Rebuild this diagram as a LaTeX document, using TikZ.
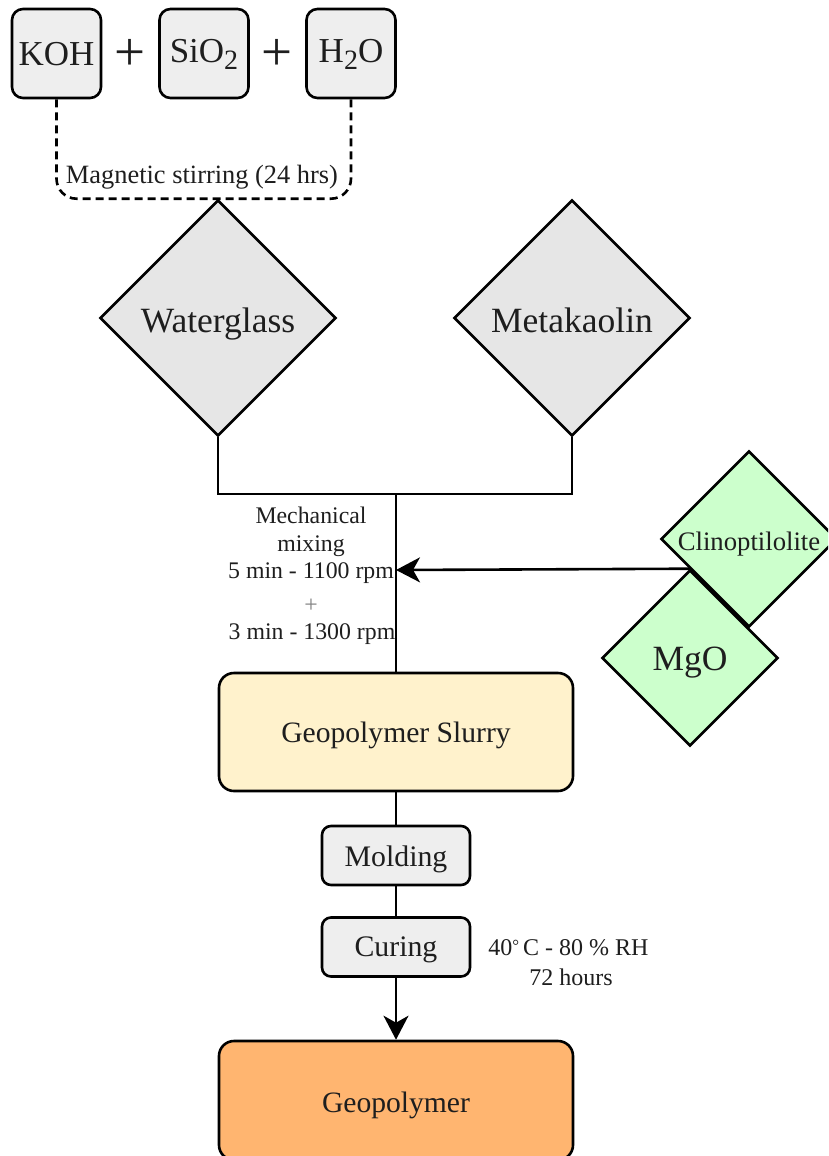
\documentclass[tikz,border=0pt]{standalone}
\usepackage{fontspec}
\setmainfont{Liberation Serif}
\usetikzlibrary{shapes.geometric,arrows.meta}
\definecolor{boxgray}{HTML}{EEEEEE}
\definecolor{diagray}{HTML}{E6E6E6}
\definecolor{lgreen}{HTML}{CCFFCC}
\definecolor{lyellow}{HTML}{FFF2CC}
\definecolor{lorange}{HTML}{FFB570}
\definecolor{txt}{HTML}{1E1E1E}
\newcommand{\chemsub}[1]{\raisebox{-7pt}{\fontsize{28}{28}\selectfont #1}}
\tikzset{
  fs/.style={font=\fontsize{#1}{#1}\selectfont},
  bl/.style={text depth=0pt, text height=#1},
  chembox/.style={draw, line width=2.6pt, rounded corners=11pt, fill=boxgray, minimum width=89pt, minimum height=89pt, inner sep=0pt, text=txt, fs=35},
  dia/.style={draw, line width=2.6pt, diamond, aspect=1, inner sep=0pt, minimum width=#1, minimum height=#1, text=txt},
  bigbox/.style={draw, line width=2.6pt, rounded corners=15pt, minimum width=354pt, minimum height=118pt, inner sep=0pt, text=txt, fs=29.6},
  smallbox/.style={draw, line width=2.6pt, rounded corners=9pt, fill=boxgray, minimum width=148pt, minimum height=59pt, inner sep=0pt, text=txt, fs=29.8},
  conn/.style={line width=2.6pt},
  tip/.style={-{Stealth[length=24pt,width=25pt,inset=7pt]}},
  note/.style={text=txt, inner sep=0pt, anchor=base}
}
\begin{document}
\begin{tikzpicture}[x=1pt,y=-1pt]
\path[use as bounding box] (0,0) rectangle (828,1156);
\clip (0,0) rectangle (828,1156);
% top chemicals
\node[chembox, bl=24pt] (koh) at (56.5,53.5) {KOH};
\node[text=txt, inner sep=0pt, fs=55] (p1) at (130,55) {+};
\node[chembox, bl=19pt] (sio) at (204,53.5) {SiO\chemsub{2}};
\node[text=txt, inner sep=0pt, fs=55] (p2) at (277,55) {+};
\node[chembox, bl=19pt] (h2o) at (351,53.5) {H\chemsub{2}O};
% diamonds
\node[dia=236pt, fill=diagray, fs=35.5, bl=28pt] (wg) at (218,318) {Waterglass};
\node[dia=236pt, fill=diagray, fs=35.5, bl=28pt] (mk) at (572,318) {Metakaolin};
% dashed stirring path
\draw[conn, dash pattern=on 8pt off 5pt, rounded corners=20pt]
  (koh.south) -- (koh.south |- wg.north) -- (h2o.south |- wg.north) -- (h2o.south);
\node[note, fs=26.4] (stir) at (202,183) {Magnetic stirring (24 hrs)};
% junction
\coordinate (jn) at (396,494);
\draw[conn] (wg.south) |- (jn) -| (mk.south);
% additives
\node[dia=176pt, fill=lgreen, fs=26.7, bl=22pt] (cli) at (749,539) {Clinoptilolite};
\node[dia=176pt, fill=lgreen, fs=35.5, bl=24pt] (mgo) at (690,658) {MgO};
% slurry
\node[bigbox, fill=lyellow, bl=21pt] (slurry) at (396,732) {Geopolymer Slurry};
\draw[conn] (jn) -- (slurry.north);
\coordinate (mix) at (396,570);
\draw[conn, tip] (mgo.north) -- (mix);
\node[note, fs=23.8] (mix1) at (311,523) {Mechanical};
\node[note, fs=23.8] (mix2) at (311,551) {mixing};
\node[note, fs=23.8] (mix3) at (311,578) {5 min - 1100 rpm};
\node[note, fs=23.8, text=gray] (mix4) at (311,612) {+};
\node[note, fs=23.8] (mix5) at (312,639) {3 min - 1300 rpm};
% molding & curing
\node[smallbox, bl=21pt] (mold) at (396,855.5) {Molding};
\node[smallbox, bl=19.5pt] (cure) at (396,947) {Curing};
\draw[conn] (slurry.south) -- (mold.north);
\draw[conn] (mold.south) -- (cure.north);
\node[bigbox, fill=lorange, minimum height=119pt, bl=24pt] (geo) at (396,1100.5) {Geopolymer};
\draw[conn, tip] (cure.south) -- (geo.north);
\node[note, fs=24] (cure1) at (568.5,955) {40{\fontsize{17}{17}\selectfont\raisebox{4pt}{°}}\,C - 80 \% RH};
\node[note, fs=24] (cure2) at (571,985) {72 hours};
\end{tikzpicture}
\end{document}
